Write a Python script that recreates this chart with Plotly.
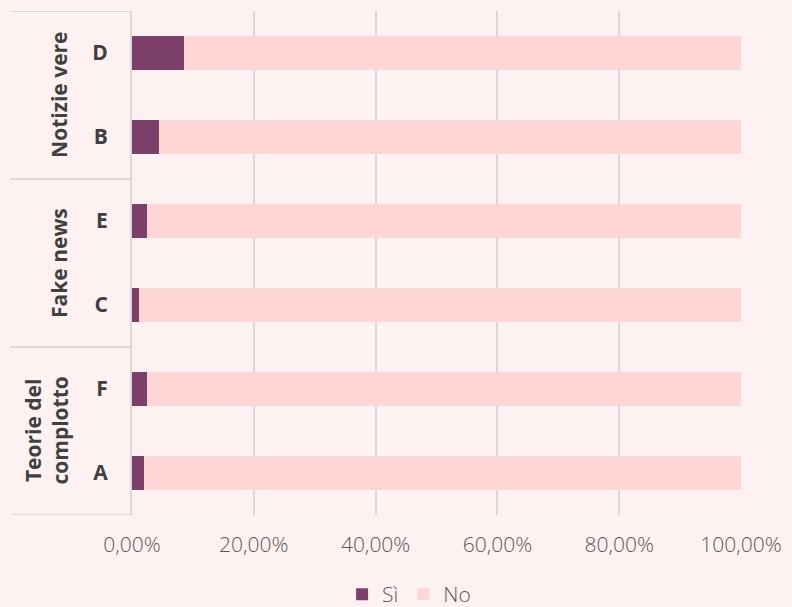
import plotly.graph_objects as go

# categories bottom-to-top, with the group each belongs to
items = ["A", "F", "C", "E", "B", "D"]
groups = ["Teorie del<br>complotto", "Fake news", "Notizie vere"]
group_items = [["A", "F"], ["C", "E"], ["B", "D"]]

# percentages
si_pct = [1.9, 2.5, 1.2, 2.5, 4.5, 8.5]
no_pct = [100 - v for v in si_pct]

BG = "#FDF2F1"
GRID = "#D9D9D9"
FONT = "Open Sans"

fig = go.Figure()
fig.add_trace(go.Bar(y=items, x=[v / 100 for v in si_pct], name="Sì", orientation="h",
                     marker=dict(color="#7C3F6A", line=dict(width=0))))
fig.add_trace(go.Bar(y=items, x=[v / 100 for v in no_pct], name="No", orientation="h",
                     marker=dict(color="#FFD6D6", line=dict(width=0))))

# group labels and dividers on the left
shapes = []
annotations = []
for g, members in zip(groups, group_items):
    idx = [items.index(m) for m in members]
    mid = sum(idx) / len(idx)
    lines = g.count("<br>") + 1
    annotations.append(dict(
        text="<b>" + g + "</b>", xref="paper", yref="y", x=-0.12 - 0.022 * (lines - 1), y=mid,
        textangle=-90, showarrow=False, xanchor="center", yanchor="middle",
        font=dict(family=FONT, size=21, color="#404040"), align="center"))
    for b in (min(idx) - 0.5, max(idx) + 0.5):
        shapes.append(dict(type="line", xref="paper", yref="y", x0=-0.199, x1=0, y0=b, y1=b,
                           line=dict(color=GRID, width=2), layer="below"))

fig.update_layout(
    barmode="stack",
    bargap=0.6,
    width=792, height=607,
    margin=dict(l=132, r=51, t=11, b=92, autoexpand=False),
    paper_bgcolor=BG, plot_bgcolor=BG,
    separators=",.",
    showlegend=True,
    legend=dict(orientation="h", traceorder="normal", x=0.455, xanchor="center",
                y=-0.158, yanchor="middle", font=dict(family=FONT, size=21, color="#595959", weight=300),
                bgcolor="rgba(0,0,0,0)", itemwidth=30),
    shapes=shapes,
    annotations=annotations,
)
fig.update_xaxes(range=[0, 1], dtick=0.2, tickformat=".2%", showgrid=True, gridcolor=GRID,
                 gridwidth=2, zeroline=False, ticks="outside", ticklen=0, tickcolor=BG,
                 ticklabelstandoff=11, tickangle=0, automargin=False,
                 tickfont=dict(family=FONT, size=21, color="#595959", weight=300))
fig.update_yaxes(categoryorder="array", categoryarray=items, range=[-0.5, 5.5],
                 tickvals=items, ticktext=["<b>" + i + "</b>" for i in items],
                 showline=True, linecolor=GRID, linewidth=2, showgrid=False, automargin=False,
                 ticks="outside", ticklen=0, tickcolor=BG, ticklabelstandoff=18,
                 tickfont=dict(family=FONT, size=21, color="#404040"))

fig.write_html("out.html", config={"displayModeBar": False},
               post_script="document.body.style.margin='0';document.body.style.overflow='hidden';")
